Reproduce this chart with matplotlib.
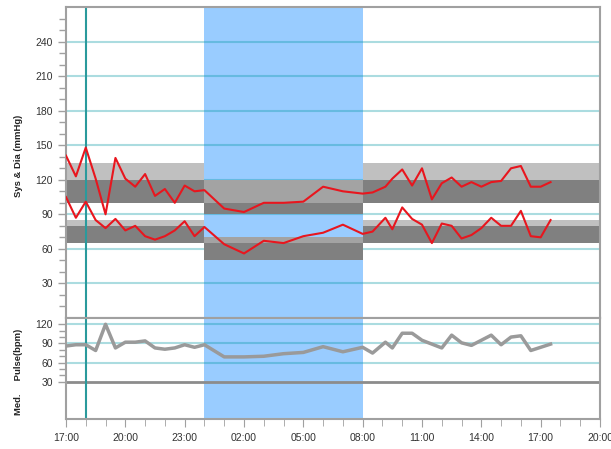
import matplotlib
matplotlib.use("Agg")
import matplotlib.pyplot as plt
from matplotlib.ticker import MultipleLocator, FixedLocator

plt.rcParams['font.family'] = ['Liberation Sans', 'DejaVu Sans']

# hours since 17:00
times = [0, 0.5, 1, 1.5, 2, 2.5, 3, 3.5, 4, 4.5, 5, 5.5, 6, 6.5, 7,
         8, 9, 10, 11, 12, 13, 14, 15,
         15.5, 16.15, 16.5, 17, 17.5, 18, 18.5, 19, 19.5, 20, 20.5,
         21, 21.5, 22, 22.5, 23, 23.5, 24, 24.5]

systolic = [141, 123, 148, 121, 90, 139, 121, 114, 125, 106, 112, 100, 115, 110, 111,
            95, 92, 100, 100, 101, 114, 110, 108,
            109, 114, 121, 129, 115, 130, 103, 117, 122, 114, 118,
            114, 118, 119, 130, 132, 114, 114, 118]

diastolic = [105, 87, 101, 85, 78, 86, 76, 80, 71, 68, 71, 76, 84, 71, 79,
             64, 56, 67, 65, 71, 74, 81, 73,
             75, 87, 77, 96, 86, 81, 65, 82, 80, 69, 72,
             78, 87, 80, 80, 93, 71, 70, 85]

pulse = [86, 88, 88, 79, 120, 83, 92, 92, 94, 83, 81, 83, 88, 84, 88,
         69, 69, 70, 74, 76, 85, 77, 84,
         75, 92, 83, 106, 106, 95, 89, 83, 103, 91, 87,
         95, 103, 88, 100, 102, 79, 84, 89]

x_tick_labels = ["17:00", "20:00", "23:00", "02:00", "05:00", "08:00",
                 "11:00", "14:00", "17:00", "20:00"]

night = (7, 15)      # 00:00 - 08:00
marker_time = 1      # 18:00

# target bands: (start, end, low, high, colour)
day_periods = [(0, 7), (15, 27)]
day_bands = [(120, 135, '#c0c0c0'), (100, 120, '#808080'),
             (80, 85, '#c0c0c0'), (65, 80, '#808080')]
night_bands = [(100, 120, '#a3a3a3'), (90, 100, '#808080'),
               (65, 70, '#a3a3a3'), (50, 65, '#808080')]

grid_col = (0.0, 0.59, 0.63, 0.33)
spine_col = '#a0a0a0'
blue = '#99ccff'
red = '#e8161e'

fig = plt.figure(figsize=(6.11, 4.49), dpi=100)
ax1 = fig.add_axes([0.108, 0.292, 0.874, 0.692])
ax2 = fig.add_axes([0.108, 0.067, 0.874, 0.225], sharex=ax1)

for ax in (ax1, ax2):
    ax.axvspan(night[0], night[1], color=blue, lw=0, zorder=0)
    ax.axvline(marker_time, color='#2a9a9c', lw=1.5, zorder=1.5)
    for s in ax.spines.values():
        s.set_color(spine_col)
        s.set_linewidth(1.5)
    ax.tick_params(axis='y', which='major', length=6, color=spine_col,
                   labelsize=7.5, labelcolor='#333333', width=1)
    ax.tick_params(axis='y', which='minor', length=5, color=spine_col, width=1)

# upper panel: blood pressure
for start, end in day_periods:
    for lo, hi, c in day_bands:
        ax1.fill_between([start, end], lo, hi, color=c, lw=0, zorder=1)
for lo, hi, c in night_bands:
    ax1.fill_between(list(night), lo, hi, color=c, lw=0, zorder=1)

for v in range(30, 241, 30):
    ax1.axhline(v, color=grid_col, lw=1.5, zorder=0.5)

ax1.plot(times, systolic, color=red, lw=1.5, zorder=3)
ax1.plot(times, diastolic, color=red, lw=1.5, zorder=3)

ax1.set_ylim(0, 270)
ax1.yaxis.set_major_locator(FixedLocator(range(30, 241, 30)))
ax1.yaxis.set_minor_locator(FixedLocator([v for v in range(10, 261, 10) if v % 30]))
ax1.tick_params(axis='x', which='both', bottom=False, labelbottom=False)

# lower panel: pulse
for v in (60, 90, 120):
    ax2.axhline(v, color=grid_col, lw=1.5, zorder=0.5)
ax2.axhline(30, color='#8c8c8c', lw=2, zorder=1)
ax2.plot(times, pulse, color='#9a9a9a', lw=2.5, zorder=3)

ax2.set_ylim(-28, 130)
ax2.yaxis.set_major_locator(FixedLocator([30, 60, 90, 120]))
ax2.yaxis.set_minor_locator(FixedLocator([40, 50, 70, 80, 100, 110]))

ax2.set_xlim(0, 27)
ax2.xaxis.set_major_locator(FixedLocator(range(0, 28, 3)))
ax2.xaxis.set_minor_locator(MultipleLocator(1))
ax2.set_xticklabels(x_tick_labels)
ax2.tick_params(axis='x', which='major', length=6, color=spine_col,
                labelsize=7.5, labelcolor='#333333', pad=4)
ax2.tick_params(axis='x', which='minor', length=5, color=spine_col)

fig.text(0.03, 0.652, "Sys & Dia (mmHg)", rotation=90, ha='center', va='center',
         fontsize=6.8, fontweight='bold', color='#222222')
fig.text(0.03, 0.172, "Med.     Pulse(bpm)", rotation=90, ha='center', va='center',
         fontsize=6.8, fontweight='bold', color='#222222')

fig.savefig("out.png", dpi=100)
